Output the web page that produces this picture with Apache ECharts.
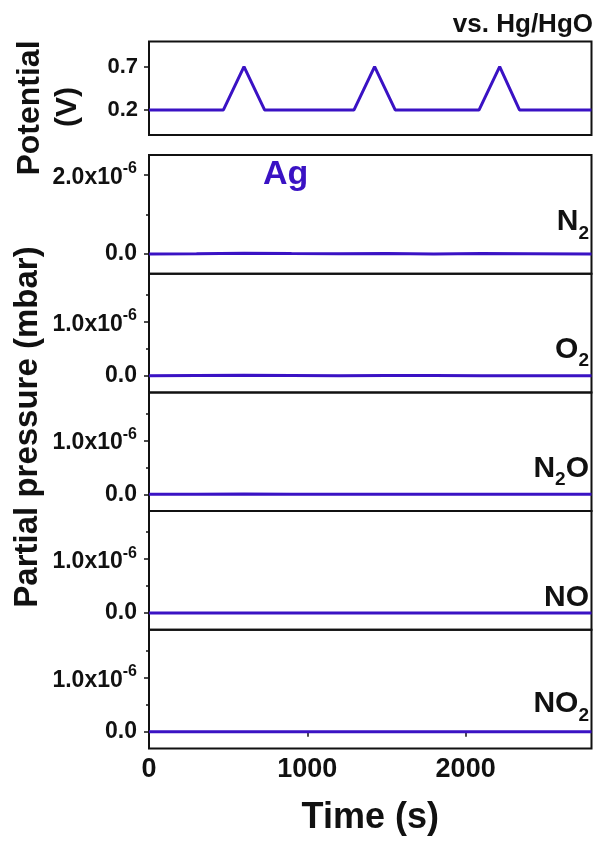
<!DOCTYPE html>
<html><head><meta charset="utf-8">
<script src="https://cdn.jsdelivr.net/npm/echarts@6/dist/echarts.min.js"></script>
<style>html,body{margin:0;padding:0;background:#fff}#c{width:597px;height:841px}</style>
</head><body><div id="c"></div>
<script>
// ---- data ----
var potTime = [0, 470, 600, 730, 1295, 1425, 1555, 2085, 2215, 2340, 2795];
var potential = [0.2, 0.2, 0.7, 0.2, 0.2, 0.7, 0.2, 0.2, 0.7, 0.2, 0.2];
var pTime = [0, 300, 600, 900, 1200, 1500, 1800, 2100, 2400, 2795];
var n2  = [0, 0.005e-6, 0.02e-6, 0.01e-6, 0.005e-6, 0.01e-6, 0.0, 0.01e-6, 0.005e-6, 0.0];
var o2  = [0, 0.005e-6, 0.01e-6, 0.005e-6, 0.0, 0.005e-6, 0.005e-6, 0.0, 0.0, 0.0];
var n2o = [0, 0.0, 0.005e-6, 0.0, 0.0, 0.0, 0.0, 0.0, 0.0, 0.0];
var no  = [0, 0.0, 0.0, 0.0, 0.0, 0.0, 0.0, 0.0, 0.0, 0.0];
var no2 = [0, 0.0, 0.0, 0.0, 0.0, 0.0, 0.0, 0.0, 0.0, 0.0];
var species = [
  {main: 'N', sub: '2', tail: ''},
  {main: 'O', sub: '2', tail: ''},
  {main: 'N', sub: '2', tail: 'O'},
  {main: 'NO', sub: '', tail: ''},
  {main: 'NO', sub: '2', tail: ''}
];
var pressureSeries = [n2, o2, n2o, no, no2];
var potTicks = [0.2, 0.7];
var pressMajor = [[0, 2e-6], [0, 1e-6], [0, 1e-6], [0, 1e-6], [0, 1e-6]];
var pressMinor = [[1e-6], [0.5e-6, 1.5e-6], [0.5e-6, 1.5e-6], [0.5e-6, 1.5e-6], [0.5e-6, 1.5e-6]];
var pressRange = [[-0.5e-6, 2.5e-6], [-0.31e-6, 1.89e-6], [-0.31e-6, 1.89e-6], [-0.31e-6, 1.89e-6], [-0.31e-6, 1.89e-6]];
var timeTicks = [0, 1000, 2000];

// ---- layout ----
var FONT = '"Liberation Sans", Arial, sans-serif';
var LINE = '#3a12c4';
var INK = '#111';
var L = 149, R = 5.5;
var tops = [155, 273.7, 392.4, 511.1, 629.8];
var H = 118.7;
var labelLift = [11, 5, 5, -6, 7]; // px the species label block sits above its zero line

var grids = [{left: L, right: R, top: 41.5, height: 93.5, show: true, borderColor: INK, borderWidth: 2, backgroundColor: 'transparent'}];
tops.forEach(function (t) {
  grids.push({left: L, right: R, top: t, height: H, show: true, borderColor: INK, borderWidth: 2, backgroundColor: 'transparent'});
});

function pressLabel(v) {
  if (Math.abs(v) < 1e-12) return '{z|0.0}';
  return '{a|' + (v / 1e-6).toFixed(1) + 'x10}{s|-6}';
}

var xAxes = [], yAxes = [], series = [];
for (var g = 0; g < 6; g++) {
  var last = g === 5;
  xAxes.push({
    type: 'value', gridIndex: g, min: 0, max: 2795,
    axisLine: {show: false},
    splitLine: {show: false},
    axisTick: last ? {show: true, inside: false, length: 5, lineStyle: {color: INK, width: 1.5}, customValues: timeTicks} : {show: false},
    axisLabel: last ? {show: true, customValues: timeTicks, formatter: function (v) { return String(v); }, fontSize: 27, fontWeight: 'bold', fontFamily: FONT, color: INK, margin: 8} : {show: false},
    name: last ? 'Time (s)' : '',
    nameLocation: 'middle', nameGap: 52,
    nameTextStyle: {fontSize: 36, fontWeight: 'bold', fontFamily: FONT, color: INK}
  });
}
// potential y axis
yAxes.push({
  type: 'value', gridIndex: 0, min: -0.09, max: 0.99, position: 'left',
  axisLine: {show: false}, splitLine: {show: false},
  axisTick: {show: true, length: 5, customValues: potTicks, lineStyle: {color: INK, width: 1.5}},
  axisLabel: {customValues: potTicks, formatter: function (v) { return v.toFixed(1); }, fontSize: 22, fontWeight: 'bold', fontFamily: FONT, color: INK, margin: 11}
});
series.push({type: 'line', xAxisIndex: 0, yAxisIndex: 0, data: potTime.map(function (t, i) { return [t, potential[i]]; }),
  symbol: 'none', lineStyle: {color: LINE, width: 3}, silent: true});
for (var k = 0; k < 5; k++) {
  yAxes.push({
    type: 'value', gridIndex: k + 1, min: pressRange[k][0], max: pressRange[k][1], position: 'left',
    axisLine: {show: false}, splitLine: {show: false},
    axisTick: {show: true, length: 5, customValues: pressMajor[k], lineStyle: {color: INK, width: 1.5}},
    axisLabel: {customValues: pressMajor[k], formatter: pressLabel, color: INK, margin: 12,
      rich: {
        z: {fontSize: 23, fontWeight: 'bold', fontFamily: FONT, color: INK},
        a: {fontSize: 23, fontWeight: 'bold', fontFamily: FONT, color: INK, lineHeight: 28, verticalAlign: 'bottom'},
        s: {fontSize: 16, fontWeight: 'bold', fontFamily: FONT, color: INK, lineHeight: 3, verticalAlign: 'top'}
      }}
  });
}
// minor tick axes
for (var m = 0; m < 5; m++) {
  yAxes.push({
    type: 'value', gridIndex: m + 1, min: pressRange[m][0], max: pressRange[m][1], position: 'left', offset: 0,
    axisLine: {show: false}, splitLine: {show: false},
    axisTick: {show: true, length: 3, customValues: pressMinor[m], lineStyle: {color: INK, width: 1.5}},
    axisLabel: {show: false}
  });
}
for (var j = 0; j < 5; j++) {
  series.push({type: 'line', xAxisIndex: j + 1, yAxisIndex: j + 1,
    data: pTime.map(function (t, i) { return [t, pressureSeries[j][i]]; }),
    symbol: 'none', lineStyle: {color: LINE, width: 3}, silent: true});
}

var chart = echarts.init(document.getElementById('c'), null, {renderer: 'canvas'});
chart.setOption({
  animation: false,
  backgroundColor: '#fff',
  grid: grids, xAxis: xAxes, yAxis: yAxes, series: series
});

// ---- text annotations anchored to axes ----
var gfx = [];
gfx.push({type: 'text', x: 30, y: 108, rotation: Math.PI / 2,
  style: {text: 'Potential', font: 'bold 32px ' + FONT, fill: INK, textAlign: 'center', textVerticalAlign: 'middle'}});
gfx.push({type: 'text', x: 68, y: 107, rotation: Math.PI / 2,
  style: {text: '(V)', font: 'bold 30px ' + FONT, fill: INK, textAlign: 'center', textVerticalAlign: 'middle'}});
gfx.push({type: 'text', x: 28, y: 427, rotation: Math.PI / 2,
  style: {text: 'Partial pressure (mbar)', font: 'bold 33px ' + FONT, fill: INK, textAlign: 'center', textVerticalAlign: 'middle'}});
gfx.push({type: 'text', x: 593, y: 25,
  style: {text: 'vs. Hg/HgO', font: 'bold 26px ' + FONT, fill: INK, textAlign: 'right', textVerticalAlign: 'middle'}});
gfx.push({type: 'text', x: 263, y: 175,
  style: {text: 'Ag', font: 'bold 34px ' + FONT, fill: LINE, textAlign: 'left', textVerticalAlign: 'middle'}});
for (var s = 0; s < 5; s++) {
  var zeroY = chart.convertToPixel({yAxisIndex: s + 1}, 0);
  var sp = species[s];
  var txt = '{m|' + sp.main + '}' + (sp.sub ? '{s|' + sp.sub + '}' : '') + (sp.tail ? '{m|' + sp.tail + '}' : '');
  gfx.push({type: 'text', x: 589, y: zeroY - labelLift[s],
    style: {text: txt, textAlign: 'right', textVerticalAlign: 'bottom',
      rich: {
        m: {fontSize: 30, fontWeight: 'bold', fontFamily: FONT, fill: INK, lineHeight: 36, verticalAlign: 'top'},
        s: {fontSize: 19, fontWeight: 'bold', fontFamily: FONT, fill: INK, lineHeight: 4, verticalAlign: 'bottom'}
      }}});
}
chart.setOption({graphic: gfx});
</script></body></html>
